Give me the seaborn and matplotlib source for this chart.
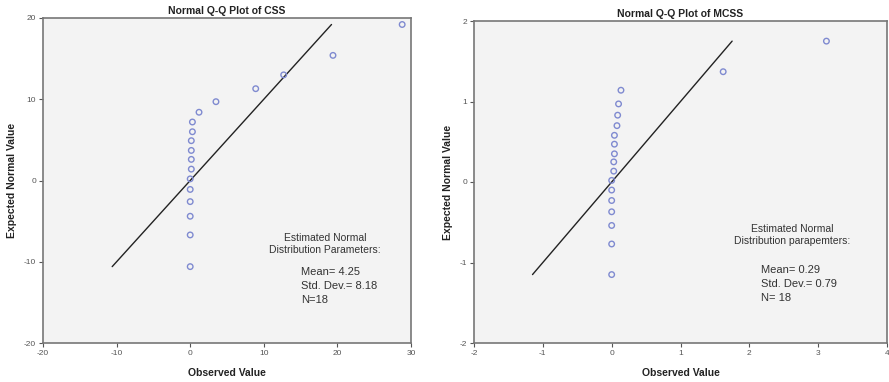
import matplotlib
matplotlib.use("Agg")
import matplotlib.pyplot as plt
import seaborn as sns
import pandas as pd

# ---- data ----
css_observed = [28.8, 19.4, 12.7, 8.9, 3.5, 1.2, 0.3, 0.3, 0.15, 0.15, 0.15, 0.15, 0.0, 0.0, 0.0, 0.0, 0.0, 0.0]
css_expected = [19.2, 15.4, 13.0, 11.3, 9.7, 8.4, 7.2, 6.0, 4.9, 3.7, 2.6, 1.4, 0.2, -1.1, -2.6, -4.4, -6.7, -10.6]
mcss_observed = [3.12, 1.62, 0.135, 0.10, 0.087, 0.077, 0.04, 0.04, 0.04, 0.03, 0.03, 0.0, 0.0, 0.0, 0.0, 0.0, 0.0, 0.0]
mcss_expected = [1.75, 1.37, 1.14, 0.97, 0.83, 0.70, 0.58, 0.47, 0.35, 0.25, 0.135, 0.02, -0.10, -0.23, -0.37, -0.54, -0.77, -1.15]

titles = ["Normal Q-Q Plot of CSS", "Normal Q-Q Plot of MCSS"]
x_label = "Observed Value"
y_label = "Expected Normal Value"
css_ticks = [-20, -10, 0, 10, 20, 30]
css_yticks = [-20, -10, 0, 10, 20]
mcss_ticks = [-2, -1, 0, 1, 2, 3, 4]
mcss_yticks = [-2, -1, 0, 1, 2]
css_note_head = "Estimated Normal\nDistribution Parameters:"
css_note_body = "Mean= 4.25\nStd. Dev.= 8.18\nN=18"
mcss_note_head = "Estimated Normal\nDistribution parapemters:"
mcss_note_body = "Mean= 0.29\nStd. Dev.= 0.79\nN= 18"

sns.set_theme(style="white")
plt.rcParams['font.family'] = ['Liberation Sans', 'DejaVu Sans']
plt.rcParams['axes.unicode_minus'] = False

fig = plt.figure(figsize=(8.89, 3.82), dpi=100)
W, H = 889, 382

def px_axes(x0, y0, x1, y1):
    return fig.add_axes([x0 / W, 1 - y1 / H, (x1 - x0) / W, (y1 - y0) / H])

ax1 = px_axes(43, 18, 411, 343)
ax2 = px_axes(474, 21, 887, 343)

panels = [
    (ax1, css_observed, css_expected, (-20, 30), (-20, 20), css_ticks, css_yticks,
     css_note_head, css_note_body, 325, 244, 301, 286),
    (ax2, mcss_observed, mcss_expected, (-2, 4), (-2, 2), mcss_ticks, mcss_yticks,
     mcss_note_head, mcss_note_body, 792, 235, 761, 284),
]

for i, (ax, obs, exp, xl, yl, xt, yt, head, body, hx, hy, bx, by) in enumerate(panels):
    df = pd.DataFrame({"obs": obs, "exp": exp})
    lo, hi = min(exp), max(exp)
    line = pd.DataFrame({"x": [lo, hi], "y": [lo, hi]})
    sns.lineplot(data=line, x="x", y="y", ax=ax, color="#222222", linewidth=1.0)
    sns.scatterplot(data=df, x="obs", y="exp", ax=ax, marker="o", s=16,
                    facecolor="none", edgecolor="#7F8AD0", linewidth=1.0, zorder=3)
    ax.set_facecolor("#F3F3F3")
    ax.set_xlim(*xl)
    ax.set_ylim(*yl)
    ax.set_xticks(xt)
    ax.set_yticks(yt)
    ax.tick_params(axis="both", which="both", direction="out", length=3, width=0.8,
                   color="#555555", labelsize=6, labelcolor="#555555", pad=2,
                   bottom=True, left=True)
    for s in ax.spines.values():
        s.set_color("#777777")
        s.set_linewidth(1.2)
    ax.set_title(titles[i], fontsize=7.5, fontweight="bold", pad=3, color="#222222")
    ax.set_xlabel(x_label, fontsize=7.5, fontweight="bold", color="#222222", labelpad=8)
    ax.set_ylabel(y_label, fontsize=7.5, fontweight="bold", color="#222222", labelpad=5)
    fig.text(hx / W, 1 - hy / H, head, ha="center", va="center", fontsize=7.5,
             color="#333333", linespacing=1.3)
    fig.text(bx / W, 1 - by / H, body, ha="left", va="center", fontsize=8,
             color="#333333", linespacing=1.55)

fig.savefig("out.png", dpi=100)
